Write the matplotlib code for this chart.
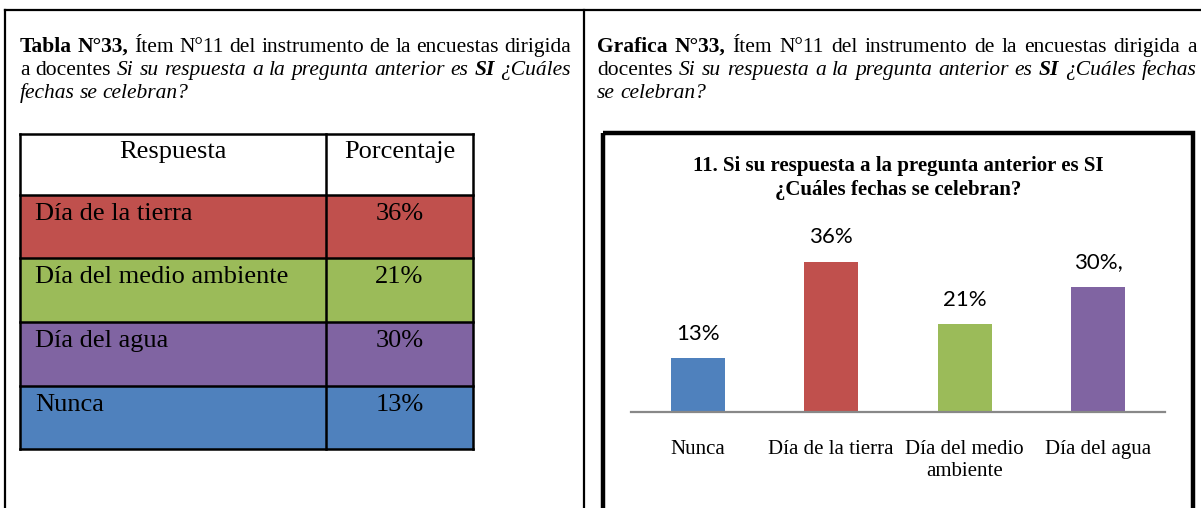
import matplotlib
matplotlib.use("Agg")
import matplotlib.pyplot as plt
from matplotlib.patches import Rectangle

# chart data
categories = ["Nunca", "Día de la tierra", "Día del medio\nambiente", "Día del agua"]
values = [13, 36, 21, 30]
value_labels = ["13%", "36%", "21%", "30%,"]
colors = ["#4F81BD", "#C0504D", "#9BBB59", "#8064A2"]

# table data (same answers, in table order)
table_header = ["Respuesta", "Porcentaje"]
table_rows = ["Día de la tierra", "Día del medio ambiente", "Día del agua", "Nunca"]
table_pct = [36, 21, 30, 13]
table_colors = ["#C0504D", "#9BBB59", "#8064A2", "#4F81BD"]

chart_title = "11. Si su respuesta a la pregunta anterior es SI\n¿Cuáles fechas se celebran?"

# caption paragraphs: lines of (word, style)
left_caption = [
    [("Tabla", "b"), ("N°33,", "b"), ("Ítem", "r"), ("N°11", "r"), ("del", "r"), ("instrumento", "r"),
     ("de", "r"), ("la", "r"), ("encuestas", "r"), ("dirigida", "r")],
    [("a", "r"), ("docentes", "r"), ("Si", "i"), ("su", "i"), ("respuesta", "i"), ("a", "i"), ("la", "i"),
     ("pregunta", "i"), ("anterior", "i"), ("es", "i"), ("SI", "bi"), ("¿Cuáles", "i")],
    [("fechas", "i"), ("se", "i"), ("celebran?", "i")],
]
right_caption = [
    [("Grafica", "b"), ("N°33,", "b"), ("Ítem", "r"), ("N°11", "r"), ("del", "r"), ("instrumento", "r"),
     ("de", "r"), ("la", "r"), ("encuestas", "r"), ("dirigida", "r"), ("a", "r")],
    [("docentes", "r"), ("Si", "i"), ("su", "i"), ("respuesta", "i"), ("a", "i"), ("la", "i"),
     ("pregunta", "i"), ("anterior", "i"), ("es", "i"), ("SI", "bi"), ("¿Cuáles", "i"), ("fechas", "i")],
    [("se", "i"), ("celebran?", "i")],
]

W, H = 1201, 508
fig = plt.figure(figsize=(W / 100, H / 100), dpi=100)
bg = fig.add_axes([0, 0, 1, 1])
bg.set_xlim(0, W)
bg.set_ylim(H, 0)
bg.axis("off")
renderer = fig.canvas.get_renderer()

serif = "Liberation Serif"

# page frame
bg.plot([5, W], [10, 10], color="black", lw=1.6)
bg.plot([5, 5], [10, H], color="black", lw=1.6)
bg.plot([584, 584], [10, H], color="black", lw=1.6)


def put_line(words, x0, x1, y, justify, size=15.5):
    arts = []
    for w, st in words:
        t = bg.text(0, y, w, fontsize=size, family=serif,
                    weight="bold" if "b" in st else "normal",
                    style="italic" if "i" in st else "normal", va="baseline")
        arts.append(t)
    widths = [a.get_window_extent(renderer).width for a in arts]
    space = 5
    if justify and len(arts) > 1:
        space = (x1 - x0 - sum(widths)) / (len(arts) - 1)
    x = x0
    for a, w in zip(arts, widths):
        a.set_x(x)
        x += w + space


for i, line in enumerate(left_caption):
    put_line(line, 20, 571, 52 + i * 23, i < 2)
for i, line in enumerate(right_caption):
    put_line(line, 597, 1197, 52 + i * 23, i < 2)

# table
tx0, tdiv, tx1 = 20, 326, 473
row_top = [134, 195, 258, 322, 386, 449]
for j, lab in enumerate(table_header):
    xc = (tx0 + tdiv) / 2 if j == 0 else (tdiv + tx1) / 2
    bg.text(xc, row_top[0] + 24, lab, fontsize=19, family=serif, ha="center", va="baseline")
for i, (name, pct, col) in enumerate(zip(table_rows, table_pct, table_colors)):
    y0, y1 = row_top[i + 1], row_top[i + 2]
    bg.add_patch(Rectangle((tx0, y0), tx1 - tx0, y1 - y0, facecolor=col, edgecolor="none"))
    bg.text(tx0 + 15, y0 + 25, name, fontsize=19, family=serif, va="baseline")
    bg.text((tdiv + tx1) / 2, y0 + 25, f"{pct}%", fontsize=19, family=serif, ha="center", va="baseline")
for y in row_top:
    bg.plot([tx0, tx1], [y, y], color="black", lw=1.8)
for x in [tx0, tdiv, tx1]:
    bg.plot([x, x], [row_top[0], row_top[-1]], color="black", lw=1.8)

# chart frame
bg.add_patch(Rectangle((603, 133), 590, 400, facecolor="none", edgecolor="black", lw=3.2))
bg.text(898, 178, chart_title, fontsize=15, family=serif, weight="bold",
        ha="center", va="center", linespacing=1.22)

# bar chart
px_per_pct = 4.18
ymax = 40
ax = fig.add_axes([631 / W, (H - 412) / H, 534 / W, px_per_pct * ymax / H])
x = range(len(values))
bars = ax.bar(x, values, width=0.405, color=colors)
ax.set_xlim(-0.5, len(values) - 0.5)
ax.set_ylim(0, ymax)
for b, lab in zip(bars, value_labels):
    ax.annotate(lab, (b.get_x() + b.get_width() / 2, b.get_height()), xytext=(0, 13),
                textcoords="offset points", ha="center", va="baseline",
                fontsize=16, family="Lato")
ax.set_xticks(list(x))
ax.set_xticklabels(categories, fontsize=15, family=serif, linespacing=1.2)
ax.tick_params(axis="x", length=0, pad=20)
ax.set_yticks([])
for s in ["top", "left", "right"]:
    ax.spines[s].set_visible(False)
ax.spines["bottom"].set_color("#888888")
ax.spines["bottom"].set_linewidth(1.6)
ax.patch.set_alpha(0)

fig.savefig("out.png", dpi=100)
